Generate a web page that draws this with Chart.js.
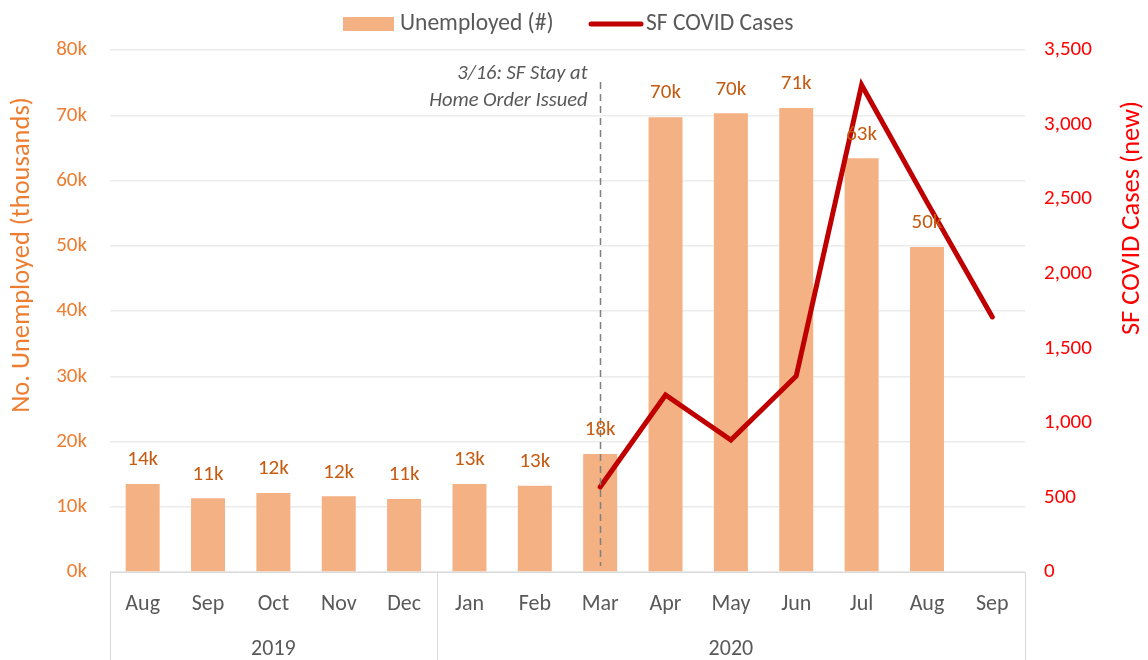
<!DOCTYPE html>
<html>
<head>
<meta charset="utf-8">
<script src="https://cdn.jsdelivr.net/npm/chart.js@4"></script>
<style>
html,body{margin:0;padding:0;background:#fff;}
#wrap{width:1148px;height:660px;position:relative;}
</style>
</head>
<body>
<div id="wrap"><canvas id="c" width="1148" height="660"></canvas></div>
<script>
const months = ['Aug','Sep','Oct','Nov','Dec','Jan','Feb','Mar','Apr','May','Jun','Jul','Aug','Sep'];
const years = ['2019','2020'];
const yearSpans = [5, 9];
const unemployed = [13500, 11300, 12100, 11600, 11200, 13500, 13200, 18100, 69700, 70300, 71100, 63400, 49800, null];
const unemployedLabels = ['14k','11k','12k','12k','11k','13k','13k','18k','70k','70k','71k','63k','50k',null];
const covidCases = [null, null, null, null, null, null, null, 570, 1187, 885, 1314, 3265, 2480, 1710];
const annotationIndex = 7;
const annotationText = ['3/16: SF Stay at', 'Home Order Issued'];
const leftTitle = 'No. Unemployed (thousands)';
const rightTitle = 'SF COVID Cases (new)';
const legendLabels = ['Unemployed (#)', 'SF COVID Cases'];

const FONT = 'Carlito, Lato, "Noto Sans", sans-serif';
const BAR = '#F4B183';
const LINE = '#C00000';
const ORANGE = '#ED7D31';
const LABEL = '#C55A11';
const GRAY = '#595959';

const extras = {
  id: 'extras',
  afterDatasetsDraw(chart) {
    const ctx = chart.ctx;
    const x = chart.scales.x;
    const area = chart.chartArea;
    ctx.save();
    // dashed annotation line
    const ax = Math.round(x.getPixelForValue(annotationIndex)) + 0.5;
    ctx.strokeStyle = '#808080';
    ctx.lineWidth = 1.5;
    ctx.setLineDash([7, 5]);
    ctx.beginPath();
    ctx.moveTo(ax, 82);
    ctx.lineTo(ax, area.bottom - 6);
    ctx.stroke();
    ctx.setLineDash([]);
    ctx.fillStyle = GRAY;
    ctx.font = 'italic 20.5px ' + FONT;
    ctx.textAlign = 'right';
    ctx.textBaseline = 'middle';
    ctx.fillText(annotationText[0], ax - 13, 74);
    ctx.fillText(annotationText[1], ax - 13, 101);
    // data labels
    const meta = chart.getDatasetMeta(0);
    ctx.fillStyle = LABEL;
    ctx.font = '21px ' + FONT;
    ctx.textAlign = 'center';
    meta.data.forEach((el, i) => {
      if (unemployedLabels[i] == null) return;
      ctx.fillText(unemployedLabels[i], el.x, el.y - 24);
    });
    ctx.restore();
  },
  afterDraw(chart) {
    const ctx = chart.ctx;
    const x = chart.scales.x;
    const area = chart.chartArea;
    ctx.save();
    // category separators
    const half = (x.getPixelForValue(1) - x.getPixelForValue(0)) / 2;
    ctx.strokeStyle = '#D9D9D9';
    ctx.lineWidth = 1;
    let idx = 0;
    const bounds = [x.getPixelForValue(0) - half];
    yearSpans.forEach(s => { idx += s; bounds.push(x.getPixelForValue(idx - 1) + half); });
    bounds.forEach(b => {
      const bx = Math.round(b) + 0.5;
      ctx.beginPath(); ctx.moveTo(bx, area.bottom); ctx.lineTo(bx, 660); ctx.stroke();
    });
    ctx.fillStyle = GRAY;
    ctx.font = '22px ' + FONT;
    ctx.textAlign = 'center';
    ctx.textBaseline = 'middle';
    years.forEach((yr, i) => {
      ctx.fillText(yr, (bounds[i] + bounds[i + 1]) / 2, 649);
    });
    // axis titles
    ctx.font = '26.5px ' + FONT;
    ctx.fillStyle = ORANGE;
    ctx.translate(22, 255);
    ctx.rotate(-Math.PI / 2);
    ctx.fillText(leftTitle, 0, 0);
    ctx.setTransform(1, 0, 0, 1, 0, 0);
    ctx.font = '26.5px ' + FONT;
    ctx.fillStyle = '#FF0000';
    ctx.translate(1132, 218);
    ctx.rotate(-Math.PI / 2);
    ctx.fillText(rightTitle, 0, 0);
    ctx.setTransform(1, 0, 0, 1, 0, 0);
    // legend
    ctx.fillStyle = BAR;
    ctx.fillRect(343, 17, 51, 14);
    ctx.fillStyle = GRAY;
    ctx.textAlign = 'left';
    ctx.font = '23.5px ' + FONT;
    ctx.fillText(legendLabels[0], 400, 24);
    ctx.strokeStyle = LINE;
    ctx.lineWidth = 5;
    ctx.lineCap = 'round';
    ctx.beginPath(); ctx.moveTo(591, 24); ctx.lineTo(641, 24); ctx.stroke();
    ctx.fillText(legendLabels[1], 646, 24);
    ctx.restore();
  }
};

new Chart(document.getElementById('c'), {
  data: {
    labels: months,
    datasets: [
      { type: 'bar', label: legendLabels[0], data: unemployed, backgroundColor: BAR, yAxisID: 'y',
        categoryPercentage: 1, barPercentage: 0.52, order: 2 },
      { type: 'line', label: legendLabels[1], data: covidCases, borderColor: LINE, borderWidth: 5,
        pointRadius: 0, tension: 0, yAxisID: 'y1', order: 1, spanGaps: false,
        borderCapStyle: 'round', borderJoinStyle: 'miter' }
    ]
  },
  options: {
    responsive: false,
    animation: false,
    layout: { padding: { top: 50, left: 0, right: 0, bottom: 0 } },
    plugins: { legend: { display: false }, tooltip: { enabled: false } },
    scales: {
      x: {
        grid: { display: false, drawTicks: false },
        border: { display: true, color: '#D9D9D9', width: 1 },
        ticks: { color: GRAY, font: { family: FONT, size: 22 }, padding: 19, maxRotation: 0, autoSkip: false },
        afterFit(s) { s.height = 88; }
      },
      y: {
        position: 'left', min: 0, max: 80000,
        grid: { color: '#EBEBEB', lineWidth: 1.5, drawTicks: false },
        border: { display: false },
        ticks: { stepSize: 10000, color: ORANGE, font: { family: FONT, size: 21 }, padding: 23,
          callback: v => (v / 1000) + 'k' },
        afterFit(s) { s.width = 110; }
      },
      y1: {
        position: 'right', min: 0, max: 3500,
        grid: { display: false, drawTicks: false },
        border: { display: false },
        ticks: { stepSize: 500, color: '#FF0000', font: { family: FONT, size: 21 }, padding: 19,
          callback: v => v.toLocaleString('en-US') },
        afterFit(s) { s.width = 123; }
      }
    }
  },
  plugins: [extras]
});
</script>
</body>
</html>
